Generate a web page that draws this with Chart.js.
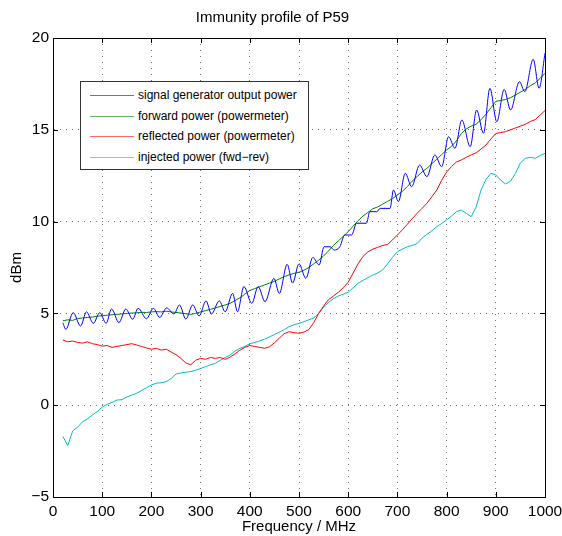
<!DOCTYPE html>
<html>
<head>
<meta charset="utf-8">
<script src="https://cdn.jsdelivr.net/npm/chart.js@4.4.1/dist/chart.umd.min.js"></script>
<style>
body { margin: 0; background: #fff; }
#wrap { position: relative; width: 562px; height: 536px; }
#legend { position: absolute; left: 80px; top: 81px; width: 227px; height: 87px;
  border: 1px solid #333; background: #fff; font: 12px "Liberation Sans", Arial, sans-serif; color: #000; }
.row { position: absolute; left: 0; height: 14px; width: 100%; }
.swatch { position: absolute; left: 9px; top: 7px; width: 44px; height: 1px; opacity: 0.6; }
.lbl { position: absolute; left: 57px; top: 0; line-height: 14px; white-space: nowrap; }
</style>
</head>
<body>
<div id="wrap">
  <canvas id="immunity" width="562" height="536"></canvas>
  <div id="legend"></div>
</div>
<script>
// series names as in the legend
labels = ['signal generator output power', 'forward power (powermeter)',
          'reflected power (powermeter)', 'injected power (fwd\u2212rev)']

// signal generator output, read at its peaks and troughs
sigFreq = [20, 26, 41, 56, 68, 82, 95, 108, 119, 134, 148, 162, 173, 190, 204, 217, 231, 246,
  257, 270, 284, 297, 311, 322, 338, 350, 365, 375, 388, 404, 417, 431, 449, 460, 476, 487,
  500, 514, 528, 541, 551, 563, 572, 583, 593, 607, 617, 637, 644, 658, 665, 685, 692, 702,
  716, 729, 745, 760, 776, 790, 804, 817, 831, 848, 861, 875, 888, 902, 917, 930, 948, 959,
  976, 988, 1000]
sigVals = [4.5, 4.13, 5.04, 4.31, 5.08, 4.46, 5.04, 4.46, 5.24, 4.5, 5.24, 4.68, 5.28, 4.71,
  5.28, 4.78, 5.3, 4.97, 5.46, 4.69, 5.46, 4.86, 5.68, 4.97, 5.68, 5.09, 6.09, 5.09, 6.46,
  5.55, 6.46, 5.64, 6.91, 6.09, 7.67, 6.65, 7.7, 6.91, 8.05, 7.64, 8.63, 8.63, 8.45, 8.63,
  9.27, 9.27, 9.91, 9.91, 10.54, 10.54, 10.72, 10.72, 11.72, 11.09, 12.63, 11.9, 13.08, 12.45,
  13.63, 12.99, 14.62, 13.99, 15.53, 14.08, 16.08, 14.81, 17.26, 15.44, 17.2, 16.08, 17.62,
  17.08, 18.84, 17.26, 19.17]

// powermeter readings, every 10 MHz from 20 to 1000
freq = []
for (f = 20; f <= 1000; f += 10) freq.push(f)

fwdVals = [4.6, 4.65, 4.62, 4.72, 4.75, 4.78, 4.8, 4.85, 4.87, 4.9, 4.93, 4.95, 4.97, 5.0,
  5.02, 5.03, 5.06, 5.05, 5.08, 5.1, 5.08, 5.12, 5.08, 5.05, 5.02, 4.98, 4.95, 5.0, 5.08,
  5.15, 5.22, 5.3, 5.38, 5.46, 5.55, 5.7, 5.85, 6.05, 6.25, 6.35, 6.45, 6.55, 6.65, 6.75,
  6.88, 7.0, 7.1, 7.18, 7.24, 7.35, 7.5, 7.7, 7.9, 8.13, 8.4, 8.7, 8.95, 9.2, 9.45, 9.75,
  10.05, 10.3, 10.5, 10.7, 10.8, 10.95, 11.1, 11.25, 11.45, 11.65, 11.9, 12.2, 12.45, 12.7,
  12.9, 13.15, 13.4, 13.65, 13.9, 14.1, 14.4, 14.8, 15.05, 15.2, 15.3, 15.55, 15.85, 16.2,
  16.55, 16.6, 16.65, 16.75, 16.9, 17.05, 17.2, 17.4, 17.55, 17.8, 18.08]

refVals = [3.55, 3.45, 3.5, 3.42, 3.38, 3.45, 3.35, 3.3, 3.22, 3.25, 3.15, 3.2, 3.25, 3.3,
  3.35, 3.28, 3.2, 3.12, 3.05, 3.1, 3.0, 3.05, 2.9, 2.75, 2.55, 2.3, 2.2, 2.45, 2.55, 2.5,
  2.6, 2.55, 2.6, 2.5, 2.62, 2.8, 3.0, 3.15, 3.25, 3.2, 3.15, 3.1, 3.18, 3.4, 3.65, 3.9,
  4.0, 3.95, 3.92, 3.98, 4.12, 4.5, 5.0, 5.4, 5.75, 5.95, 6.15, 6.4, 6.7, 7.2, 7.7, 8.1,
  8.35, 8.5, 8.6, 8.7, 8.75, 9.0, 9.27, 9.55, 9.85, 10.15, 10.45, 10.72, 11.0, 11.35, 11.72,
  12.25, 12.7, 13.0, 13.25, 13.36, 13.5, 13.63, 13.75, 13.95, 14.17, 14.5, 14.8, 14.85,
  14.9, 15.0, 15.1, 15.2, 15.3, 15.45, 15.55, 15.8, 16.05]

injVals = [-1.7, -2.2, -1.4, -1.2, -0.9, -0.75, -0.53, -0.35, -0.1, 0.05, 0.15, 0.28, 0.3,
  0.45, 0.55, 0.65, 0.8, 0.95, 1.1, 1.2, 1.22, 1.28, 1.45, 1.7, 1.75, 1.8, 1.83, 1.9, 2.0,
  2.1, 2.2, 2.28, 2.45, 2.6, 2.73, 2.95, 3.1, 3.2, 3.35, 3.42, 3.5, 3.6, 3.72, 3.85, 3.98,
  4.12, 4.28, 4.38, 4.46, 4.55, 4.65, 4.75, 5.0, 5.35, 5.6, 5.8, 5.95, 6.05, 6.15, 6.4,
  6.64, 6.8, 6.95, 7.09, 7.2, 7.36, 7.7, 8.05, 8.36, 8.5, 8.63, 8.7, 8.8, 9.1, 9.3, 9.5,
  9.72, 9.9, 10.09, 10.3, 10.54, 10.63, 10.45, 10.27, 10.8, 11.72, 12.3, 12.63, 12.54,
  12.25, 12.05, 12.2, 12.63, 13.2, 13.45, 13.5, 13.45, 13.6, 13.72]

xTicks = [0, 100, 200, 300, 400, 500, 600, 700, 800, 900, 1000]
yTicks = [-5, 0, 5, 10, 15, 20]

colors = ['#0000ff', '#008000', '#ff0000', '#00bfbf']

function pairs(xs, ys) {
  return xs.map((x, i) => ({x: x, y: ys[i]}))
}

// matlab style box with inward ticks
boxPlugin = {
  id: 'box',
  afterDatasetsDraw(chart) {
    const ctx = chart.ctx, a = chart.chartArea
    const xs = chart.scales.x, ys = chart.scales.y
    ctx.save()
    ctx.strokeStyle = '#000'
    ctx.lineWidth = 1
    ctx.strokeRect(Math.round(a.left) + 0.5, Math.round(a.top) + 0.5,
      Math.round(a.right - a.left), Math.round(a.bottom - a.top))
    ctx.beginPath()
    xTicks.forEach(v => {
      const px = Math.round(xs.getPixelForValue(v)) + 0.5
      ctx.moveTo(px, a.bottom); ctx.lineTo(px, a.bottom - 5)
      ctx.moveTo(px, a.top); ctx.lineTo(px, a.top + 5)
    })
    yTicks.forEach(v => {
      const py = Math.round(ys.getPixelForValue(v)) + 0.5
      ctx.moveTo(a.left, py); ctx.lineTo(a.left + 5, py)
      ctx.moveTo(a.right, py); ctx.lineTo(a.right - 5, py)
    })
    ctx.stroke()
    ctx.restore()
  }
}

font = '"Liberation Sans", Arial, sans-serif'

chartdata = {
  datasets: [
    {label: labels[0], data: pairs(sigFreq, sigVals), borderColor: colors[0], cubicInterpolationMode: 'monotone'},
    {label: labels[1], data: pairs(freq, fwdVals), borderColor: colors[1]},
    {label: labels[2], data: pairs(freq, refVals), borderColor: colors[2]},
    {label: labels[3], data: pairs(freq, injVals), borderColor: colors[3]}
  ].map(d => Object.assign({borderWidth: 1, pointRadius: 0, tension: 0, fill: false}, d))
}

config = {
  type: 'line',
  data: chartdata,
  plugins: [boxPlugin],
  options: {
    responsive: false,
    animation: false,
    devicePixelRatio: 1,
    layout: {padding: {left: 0, right: 17, top: 0, bottom: 0}},
    plugins: {
      legend: {display: false},
      tooltip: {enabled: false},
      title: {display: true, text: 'Immunity profile of P59', color: '#000',
        font: {family: font, size: 15, weight: 'normal'}, padding: {top: 9, bottom: 11}}
    },
    scales: {
      x: {
        type: 'linear', min: 0, max: 1000,
        afterBuildTicks: s => { s.ticks = xTicks.map(v => ({value: v})) },
        afterFit: s => { s.height = 39; s.paddingRight = 0; s.paddingLeft = 0 },
        grid: {color: 'rgba(0,0,0,0.55)', drawTicks: false},
        border: {display: true, color: '#000', dash: [1, 5]},
        ticks: {color: '#000', padding: 5, maxRotation: 0, font: {family: font, size: 15.5},
          callback: v => String(v)},
        title: {display: true, text: 'Frequency / MHz', color: '#000', padding: 0,
          font: {family: font, size: 15}}
      },
      y: {
        min: -5, max: 20,
        afterBuildTicks: s => { s.ticks = yTicks.map(v => ({value: v})) },
        afterFit: s => { s.width = 53 },
        grid: {color: 'rgba(0,0,0,0.55)', drawTicks: false},
        border: {display: true, color: '#000', dash: [1, 5]},
        ticks: {color: '#000', padding: 4, font: {family: font, size: 15.5},
          callback: v => String(v).replace('-', '\u2212')},
        title: {display: true, text: 'dBm', color: '#000', padding: {top: 8},
          font: {family: font, size: 15}}
      }
    }
  }
}

myChart = new Chart(document.getElementById('immunity'), config)

// legend box drawn over the plot, from the datasets
legend = document.getElementById('legend')
myChart.data.datasets.forEach((d, i) => {
  row = document.createElement('div')
  row.className = 'row'
  row.style.top = (6 + i * 20.5) + 'px'
  row.innerHTML = '<div class="swatch" style="background:' + d.borderColor + '"></div>' +
    '<div class="lbl">' + d.label + '</div>'
  legend.appendChild(row)
})
</script>
</body>
</html>
